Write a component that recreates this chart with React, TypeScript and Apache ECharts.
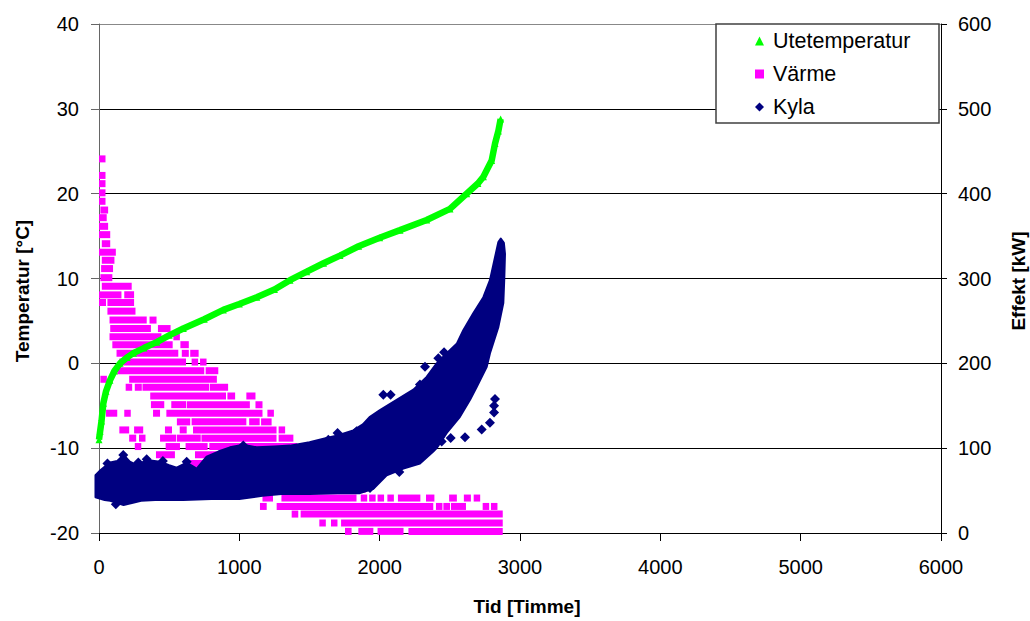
import React, { useEffect, useRef } from "react";
import * as echarts from "echarts";

// Utetemperatur (sorted duration curve): [hour, °C]
const tempSeries: [number, number][] = [
  [0, -9], [8, -8], [18, -6.8], [31, -4.7], [50, -3.3], [78, -2], [110, -0.9], [150, 0],
  [200, 0.7], [245, 1.2], [320, 1.8], [411, 2.5], [500, 3.3], [601, 4.1], [750, 5.2],
  [886, 6.3], [1000, 7], [1124, 7.8], [1250, 8.7], [1361, 9.8], [1480, 10.8], [1600, 11.8],
  [1717, 12.7], [1850, 13.8], [2000, 14.8], [2145, 15.7], [2335, 16.9], [2501, 18.2],
  [2620, 20], [2700, 21.2], [2739, 22], [2798, 23.9], [2822, 25.9], [2846, 27.4], [2862, 28.8],
];

// Värme: runs of squares on discrete power levels: [start hour, end hour, kW]
const varmeSegments: [number, number, number][] = [
  [0, 30, 441], [0, 25, 421.5], [0, 40, 411.8], [0, 40, 401], [0, 30, 391],
  [10, 65, 380.7], [0, 55, 371.7], [0, 65, 361.5], [0, 80, 351.7], [20, 80, 341],
  [0, 120, 331], [20, 110, 321.5], [15, 100, 311.7], [10, 95, 301], [20, 233, 291],
  [0, 160, 280.7], [180, 250, 280.7],
  [0, 50, 271.7], [60, 250, 271.7],
  [60, 260, 261.5],
  [75, 340, 251], [360, 410, 251],
  [80, 370, 241], [420, 510, 241],
  [75, 445, 231.3], [530, 570, 231.3],
  [95, 525, 222], [580, 640, 222],
  [125, 565, 211.8], [590, 640, 211.8], [650, 710, 211.8],
  [145, 620, 201.5], [660, 700, 201.5], [720, 760, 201.5],
  [130, 750, 191.3], [760, 850, 191.3],
  [10, 55, 181.2], [215, 840, 181.2],
  [190, 235, 171.8], [255, 305, 171.8], [310, 785, 171.8], [790, 920, 171.8],
  [365, 905, 161.5], [915, 970, 161.5], [1050, 1115, 161.5],
  [370, 465, 151.3], [515, 620, 151.3], [625, 1075, 151.3], [1115, 1165, 151.3],
  [50, 130, 141.2], [180, 220, 141.2], [385, 435, 141.2], [480, 1165, 141.2], [1200, 1245, 141.2],
  [555, 650, 131], [660, 1050, 131], [1070, 1145, 131], [1155, 1230, 131],
  [145, 215, 121.5], [250, 315, 121.5], [470, 520, 121.5], [575, 625, 121.5], [670, 1265, 121.5], [1280, 1320, 121.5],
  [215, 265, 111.8], [285, 330, 111.8], [435, 550, 111.8], [555, 725, 111.8], [730, 1265, 111.8], [1280, 1385, 111.8],
  [255, 300, 101.9], [475, 577, 101.9], [617, 774, 101.9], [786, 1413, 101.9],
  [406, 541, 92.1], [684, 1500, 92.1],
  [600, 1600, 82], [700, 1700, 72], [900, 1800, 62], [1100, 1900, 51.5],
  [1165, 1240, 41.2], [1300, 1835, 41.2], [1865, 1905, 41.2], [1925, 1965, 41.2], [1985, 2025, 41.2],
  [2055, 2090, 41.2], [2130, 2290, 41.2], [2330, 2390, 41.2], [2495, 2550, 41.2], [2600, 2650, 41.2], [2670, 2715, 41.2],
  [1147, 1195, 31.3], [1266, 2382, 31.3], [2401, 2442, 31.3], [2454, 2501, 31.3], [2508, 2615, 31.3],
  [2734, 2774, 31.3], [2793, 2834, 31.3],
  [1373, 1420, 22.3], [1437, 2877, 22.3],
  [1570, 1615, 11.8], [1653, 1698, 11.8], [1725, 2877, 11.8],
  [1753, 1800, 1.9], [1848, 1955, 1.9], [1985, 2170, 1.9], [2205, 2877, 1.9],
];

// Kyla: outline of the dense cloud of diamonds: [hour, kW]
const kylaOutline: [number, number][] = [
  [10, 74], [40, 78], [80, 83], [130, 85], [175, 92], [220, 84], [270, 80], [340, 86],
  [435, 84], [500, 80], [553, 77], [625, 83], [696, 76], [767, 90], [850, 96], [933, 101],
  [1028, 104], [1124, 101], [1250, 102], [1361, 103], [1500, 107], [1622, 112], [1700, 115],
  [1812, 121], [1880, 128], [1931, 137], [2002, 145], [2121, 157], [2240, 169], [2335, 184],
  [2406, 200], [2478, 212], [2549, 223], [2596, 239], [2667, 259], [2739, 278], [2786, 298],
  [2822, 325], [2846, 343], [2863, 347], [2885, 342], [2893, 329], [2888, 300], [2881, 271],
  [2846, 243], [2786, 212], [2763, 196], [2691, 172], [2644, 157], [2572, 137], [2478, 118],
  [2406, 100], [2382, 96], [2287, 82], [2169, 76], [2050, 68], [1955, 52], [1860, 47],
  [1700, 47], [1500, 46], [1300, 46], [1165, 44], [1000, 40], [800, 40], [600, 39], [400, 39],
  [300, 38], [175, 33], [120, 36], [80, 38], [40, 39], [-25, 42], [-25, 68],
];

// Kyla: loose diamonds outside / on the edge of the dense cloud: [hour, kW]
const kylaPoints: [number, number][] = [
  [1634, 110], [1836, 120], [2026, 163], [2078, 163], [2287, 175], [2358, 178], [2323, 196],
  [2418, 206], [2459, 213], [2442, 108], [2506, 112], [2608, 113], [2727, 122], [2786, 130],
  [2815, 142], [2815, 150], [2822, 158], [2140, 72], [1931, 53], [1028, 103], [173, 92],
  [280, 83], [340, 87], [625, 84], [455, 85], [60, 82], [120, 34], [1700, 118],
];

const FONT = "'Liberation Sans', Arial, sans-serif";

export default function App() {
  const ref = useRef<HTMLDivElement>(null);

  useEffect(() => {
    const chart = echarts.init(ref.current as HTMLDivElement, undefined, { renderer: "svg" });
    chart.setOption({
      animation: false,
      backgroundColor: "#fff",
      grid: { left: 99, right: 89, top: 24, bottom: 88, show: false },
      xAxis: {
        type: "value",
        min: 0,
        max: 6000,
        interval: 1000,
        axisLine: { show: true, onZero: false, lineStyle: { color: "#000", width: 1 } },
        axisTick: { show: true, inside: false, length: 8, lineStyle: { color: "#000" } },
        axisLabel: {
          color: "#000",
          fontSize: 20,
          fontFamily: FONT,
          margin: 24,
          formatter: (v: number) => String(v),
        },
        splitLine: { show: false },
      },
      yAxis: [
        {
          type: "value",
          min: -20,
          max: 40,
          interval: 10,
          position: "left",
          axisLine: { show: true, onZero: false, lineStyle: { color: "#666", width: 1 } },
          axisTick: { show: true, inside: false, length: 8, lineStyle: { color: "#666" } },
          axisLabel: { color: "#000", fontSize: 20, fontFamily: FONT, margin: 20 },
          splitLine: {
            show: true,
            lineStyle: { color: ["#000", "#000", "#000", "#000", "#000", "#000", "#888"], width: 1 },
          },
        },
        {
          type: "value",
          min: 0,
          max: 600,
          interval: 100,
          position: "right",
          axisLine: { show: true, onZero: false, lineStyle: { color: "#000", width: 1 } },
          axisTick: { show: true, inside: false, length: 6, lineStyle: { color: "#000" } },
          axisLabel: { color: "#000", fontSize: 20, fontFamily: FONT, margin: 17 },
          splitLine: { show: false },
        },
      ],
      legend: {
        orient: "vertical",
        left: 750,
        top: 25,
        itemWidth: 9,
        itemHeight: 9,
        itemGap: 11,
        selectedMode: false,
        z: 60,
        textStyle: {
          fontSize: 21.5,
          fontFamily: FONT,
          color: "#000",
          lineHeight: 22,
          padding: [0, 0, 0, 4],
        },
        data: [
          { name: "Utetemperatur", icon: "triangle" },
          { name: "Värme", icon: "rect" },
          { name: "Kyla", icon: "diamond" },
        ],
      },
      graphic: [
        {
          type: "rect",
          z: 50,
          shape: { x: 716, y: 24, width: 223, height: 99 },
          style: { fill: "#fff", stroke: "#404040", lineWidth: 1.5 },
        },
        {
          type: "text",
          x: 22,
          y: 291,
          rotation: Math.PI / 2,
          style: {
            text: "Temperatur [°C]",
            fontSize: 19,
            fontWeight: "bold",
            fontFamily: FONT,
            fill: "#000",
            align: "center",
            verticalAlign: "middle",
          },
        },
        {
          type: "text",
          x: 1018,
          y: 281,
          rotation: Math.PI / 2,
          style: {
            text: "Effekt [kW]",
            fontSize: 19,
            fontWeight: "bold",
            fontFamily: FONT,
            fill: "#000",
            align: "center",
            verticalAlign: "middle",
          },
        },
        {
          type: "text",
          x: 527,
          y: 606,
          style: {
            text: "Tid [Timme]",
            fontSize: 19,
            fontWeight: "bold",
            fontFamily: FONT,
            fill: "#000",
            align: "center",
            verticalAlign: "middle",
          },
        },
      ],
      series: [
        {
          name: "Utetemperatur",
          type: "line",
          yAxisIndex: 0,
          data: tempSeries,
          symbol: "triangle",
          symbolSize: 7,
          showSymbol: true,
          itemStyle: { color: "#00FF00" },
          lineStyle: { color: "#00FF00", width: 6.5 },
        },
        {
          name: "Värme",
          type: "custom",
          yAxisIndex: 1,
          data: varmeSegments,
          encode: { x: [0, 1], y: 2 },
          itemStyle: { color: "#FF00FF" },
          renderItem: (params: any, api: any) => {
            const s = api.coord([api.value(0), api.value(2)]);
            const e = api.coord([api.value(1), api.value(2)]);
            const h = 7;
            const w = Math.max(e[0] - s[0], 6.5);
            return {
              type: "rect",
              shape: { x: s[0], y: s[1] - h / 2, width: w, height: h },
              style: { fill: "#FF00FF" },
            };
          },
        },
        {
          name: "Kyla",
          type: "custom",
          yAxisIndex: 1,
          data: kylaOutline,
          encode: { x: 0, y: 1 },
          itemStyle: { color: "#000080" },
          renderItem: (params: any, api: any) => {
            if (params.dataIndex !== 0) return null;
            const pts = kylaOutline.map((p) => api.coord(p));
            return {
              type: "polygon",
              shape: { points: pts },
              style: { fill: "#000080", stroke: "#000080", lineWidth: 2, lineJoin: "round" },
            };
          },
        },
        {
          name: "Kyla",
          type: "scatter",
          yAxisIndex: 1,
          data: kylaPoints,
          symbol: "diamond",
          symbolSize: 10,
          itemStyle: { color: "#000080", opacity: 1 },
        },
      ],
    });
    return () => chart.dispose();
  }, []);

  return (
    <div
      ref={ref}
      style={{ position: "fixed", left: 0, top: 0, width: 1030, height: 621, background: "#fff" }}
    />
  );
}
